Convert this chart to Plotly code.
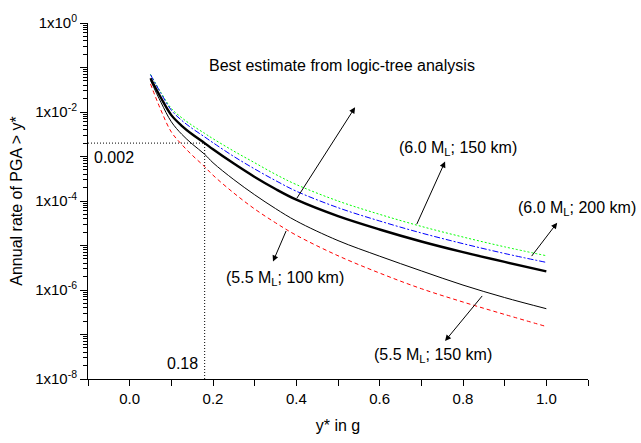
import plotly.graph_objects as go

# x values (g)
x_vals = [0.05, 0.075, 0.1, 0.125, 0.15, 0.18, 0.2, 0.25, 0.3, 0.35, 0.4, 0.5, 0.6, 0.7, 0.8, 0.9, 1.0]

best_estimate = [5.75e-2, 2.09e-2, 8.51e-3, 4.90e-3, 3.16e-3, 2.00e-3, 1.45e-3, 6.92e-4, 3.47e-4,
                 1.86e-4, 1.07e-4, 4.57e-5, 2.29e-5, 1.23e-5, 7.08e-6, 4.27e-6, 2.63e-6]
m60_r150 = [7.00e-2, 2.75e-2, 1.20e-2, 7.41e-3, 5.01e-3, 3.31e-3, 2.51e-3, 1.32e-3, 7.24e-4,
            3.98e-4, 2.34e-4, 1.00e-4, 5.01e-5, 2.69e-5, 1.55e-5, 9.33e-6, 5.89e-6]
m60_r200 = [6.92e-2, 2.63e-2, 1.10e-2, 6.46e-3, 4.27e-3, 2.75e-3, 2.04e-3, 1.00e-3, 5.25e-4,
            2.88e-4, 1.66e-4, 7.08e-5, 3.55e-5, 1.91e-5, 1.10e-5, 6.61e-6, 4.17e-6]
m55_r150 = [5.13e-2, 1.66e-2, 6.03e-3, 3.16e-3, 1.91e-3, 1.12e-3, 7.24e-4, 3.02e-4, 1.38e-4,
            6.76e-5, 3.55e-5, 1.29e-5, 5.75e-6, 2.69e-6, 1.29e-6, 6.76e-7, 3.80e-7]
m55_r100 = [4.27e-2, 1.10e-2, 3.55e-3, 1.86e-3, 1.07e-3, 5.89e-4, 3.80e-4, 1.51e-4, 6.61e-5,
            3.24e-5, 1.70e-5, 5.89e-6, 2.40e-6, 1.07e-6, 5.37e-7, 2.82e-7, 1.51e-7]

# reference point
ref_x = 0.18
ref_y = 0.002

y_major = [1, 1e-1, 1e-2, 1e-3, 1e-4, 1e-5, 1e-6, 1e-7, 1e-8]
y_major_text = ["1x10<sup>0</sup>", "", "1x10<sup>-2</sup>", "", "1x10<sup>-4</sup>", "",
                "1x10<sup>-6</sup>", "", "1x10<sup>-8</sup>"]
y_minor = [m * 10.0 ** e for e in range(-8, 0) for m in range(2, 10)]

FONT = "Liberation Sans, Arial, sans-serif"

fig = go.Figure()

fig.add_trace(go.Scatter(x=[-0.1, ref_x], y=[ref_y, ref_y], mode="lines",
                         line=dict(color="black", width=1, dash="1px,2px"), showlegend=False))
fig.add_trace(go.Scatter(x=[ref_x, ref_x], y=[1e-8, ref_y], mode="lines",
                         line=dict(color="black", width=1, dash="1px,2px"), showlegend=False))

fig.add_trace(go.Scatter(x=x_vals, y=m60_r150, mode="lines", line_shape="spline",
                         line=dict(color="#00ff00", width=1, dash="2px,2px"), showlegend=False))
fig.add_trace(go.Scatter(x=x_vals, y=m60_r200, mode="lines", line_shape="spline",
                         line=dict(color="#0000ff", width=1, dash="6px,2px,2px,2px"), showlegend=False))
fig.add_trace(go.Scatter(x=x_vals, y=m55_r150, mode="lines", line_shape="spline",
                         line=dict(color="black", width=1), showlegend=False))
fig.add_trace(go.Scatter(x=x_vals, y=m55_r100, mode="lines", line_shape="spline",
                         line=dict(color="#ff0000", width=1, dash="4px,3px"), showlegend=False))
fig.add_trace(go.Scatter(x=x_vals, y=best_estimate, mode="lines", line_shape="spline",
                         line=dict(color="black", width=2.4), showlegend=False))

def arrow(hx, hy, tx, ty):
    fig.add_annotation(x=hx, y=hy, ax=tx, ay=ty, xref="x", yref="y", axref="x", ayref="y",
                       text="", showarrow=True, arrowhead=2, arrowsize=1.2, arrowwidth=1,
                       arrowcolor="black")

def label(tx, ty, text, xanchor="center", xref="x"):
    fig.add_annotation(x=tx, y=ty, xref=xref, yref="y", text=text, showarrow=False,
                       xanchor=xanchor, yanchor="middle",
                       font=dict(family=FONT, size=16, color="black"))

arrow(0.541, -1.895, 0.399, -3.97)
arrow(0.757, -3.115, 0.6875, -4.553)
arrow(1.026, -4.488, 0.962, -5.272)
arrow(0.344, -5.36, 0.377, -4.64)
arrow(0.757, -7.146, 0.849, -6.10)

label(0.185, -0.959, "Best estimate from logic-tree analysis", xanchor="left")
label(0.788, -2.81, "(6.0 M<sub>L</sub>; 150 km)")
label(1.099, -4.16, "(6.0 M<sub>L</sub>; 200 km)", xanchor="right", xref="paper")
label(0.373, -5.75, "(5.5 M<sub>L</sub>; 100 km)")
label(0.728, -7.47, "(5.5 M<sub>L</sub>; 150 km)")
label(-0.038, -3.03, "0.002")
label(0.127, -7.647, "0.18")

fig.update_layout(
    width=641, height=443,
    margin=dict(l=88, r=53, t=17, b=59),
    paper_bgcolor="white", plot_bgcolor="white",
    font=dict(family=FONT, size=15, color="black"),
    showlegend=False,
)
fig.update_xaxes(
    range=[-0.1, 1.1], tick0=0, dtick=0.2, tickformat=".1f",
    ticks="outside", ticklen=6, tickwidth=1, tickcolor="black",
    minor=dict(dtick=0.1, tick0=0, ticks="outside", ticklen=6, tickcolor="black"),
    showline=True, linecolor="black", linewidth=1, showgrid=False, zeroline=False,
    title=dict(text="y* in g", font=dict(size=16), standoff=13),
)
fig.update_yaxes(
    type="log", range=[-8, 0],
    tickmode="array", tickvals=y_major, ticktext=y_major_text,
    ticks="outside", ticklen=7, tickwidth=1, tickcolor="black",
    minor=dict(tickvals=y_minor, ticks="outside", ticklen=4, tickcolor="black"),
    showline=True, linecolor="black", linewidth=1, showgrid=False, zeroline=False,
    title=dict(text="Annual rate of PGA > y*", font=dict(size=16), standoff=8),
)

fig.write_html("out.html", config={"displayModeBar": False},
               post_script="document.body.style.margin='0px';")
